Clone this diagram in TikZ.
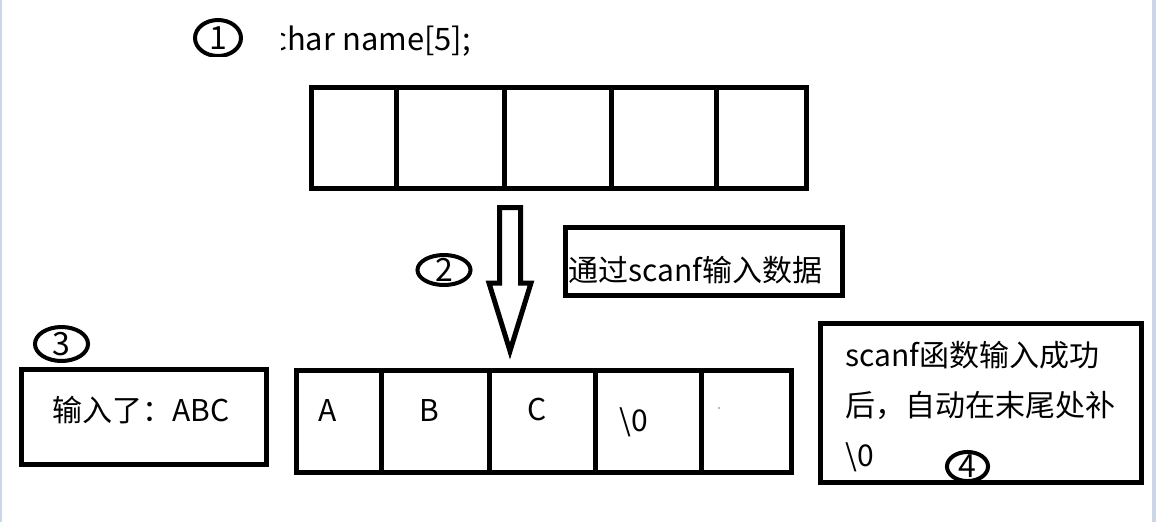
\documentclass[tikz,border=0pt]{standalone}
\usepackage{fontspec}
\usetikzlibrary{positioning}
\newfontfamily\cjk{Noto Sans CJK SC}
\definecolor{scEdge}{RGB}{203,215,232}
\definecolor{scSpeck}{RGB}{160,160,160}
\newcommand{\slotrow}[5]{%
  \draw[wall] (#1,#3) rectangle (#2,#4);
  \foreach \cx in {#5}{\draw[wall] (\cx,#3) -- (\cx,#4);}
}
\tikzset{
  wall/.style={line width=3.75pt,line join=miter},
  ring/.style={line width=3pt},
  notebox/.style={draw,line width=3.75pt,inner sep=0pt},
  say/.style={inner sep=0pt,font=\cjk\fontsize{22.5}{28}\selectfont},
  codeline/.style={inner sep=0pt,font=\cjk\fontsize{23.2}{28}\selectfont},
  badge/.style={inner sep=0pt,font=\cjk\fontsize{24}{28}\selectfont}
}

\begin{document}
\begin{tikzpicture}[x=0.75pt,y=-0.75pt]
  \useasboundingbox (0,0) rectangle (1156,522);
  \fill[white] (0,0) rectangle (1156,522);
  \fill[scEdge] (0,0) rectangle (1.5,522);
  \fill[scEdge] (1151.5,0) rectangle (1156,522);

  \begin{scope}
    \clip (0,0) rectangle (281,56);
    \node[badge] (mark1) at (218,38) {1};
    \draw[ring] (mark1.center) ellipse [x radius=17.25pt,y radius=13.5pt];
  \end{scope}
  \begin{scope}
    \clip (281,0) rectangle (700,80);
    \node[codeline,anchor=base west] (decl) at (271,50) {char name[5];};
  \end{scope}

  \slotrow{311.5}{806.5}{87.5}{188}{396.5,504.5,611,716.5}

  \draw[wall] (499.5,207.5) -- (520.5,207.5) -- (520.5,283) -- (531,283)
    -- (510,351) -- (489,283) -- (499.5,283) -- cycle;
  \node[badge] (mark2) at (444,270) {2};
  \draw[ring] (mark2.center) ellipse [x radius=19.9pt,y radius=11.25pt];

  \node[notebox,minimum width=207.75pt,minimum height=51pt] (viabox) at (704,261.5) {};
  \node[say,anchor=base] (via) at (695.5,281) {通过scanf输入数据};

  \node[badge] (mark3) at (61.5,344) {3};
  \draw[ring] (mark3.center) ellipse [x radius=19.9pt,y radius=12.75pt];
  \node[notebox,minimum width=183.75pt,minimum height=71.25pt] (gotbox) at (143.5,417) {};
  \node[say,anchor=base] (got) at (141,421) {输入了：ABC};

  \slotrow{296.5}{791.5}{370.5}{472}{381.5,489.5,595.5,701.5}
  \node[say,anchor=base] (slotA) at (328,421) {A};
  \node[say,anchor=base] (slotB) at (429,421) {B};
  \node[say,anchor=base] (slotC) at (537.5,420) {C};
  \node[say,anchor=base] (slotZ) at (634,431) {\textbackslash 0};
  \fill[scSpeck] (719,408) circle [radius=0.8pt];

  \node[notebox,minimum width=241pt,minimum height=118.9pt] (tailbox) at (981.25,403.25) {};
  \foreach \txt [count=\k from 0] in {scanf函数输入成功,后，自动在末尾处补,\textbackslash 0}
    \node[say,anchor=base west] (tail\k) at (845,{366+50*\k}) {\txt};
  \node[badge] (mark4) at (967.5,466.5) {4};
  \draw[ring] (mark4.center) ellipse [x radius=15.4pt,y radius=10.9pt];
\end{tikzpicture}
\end{document}
